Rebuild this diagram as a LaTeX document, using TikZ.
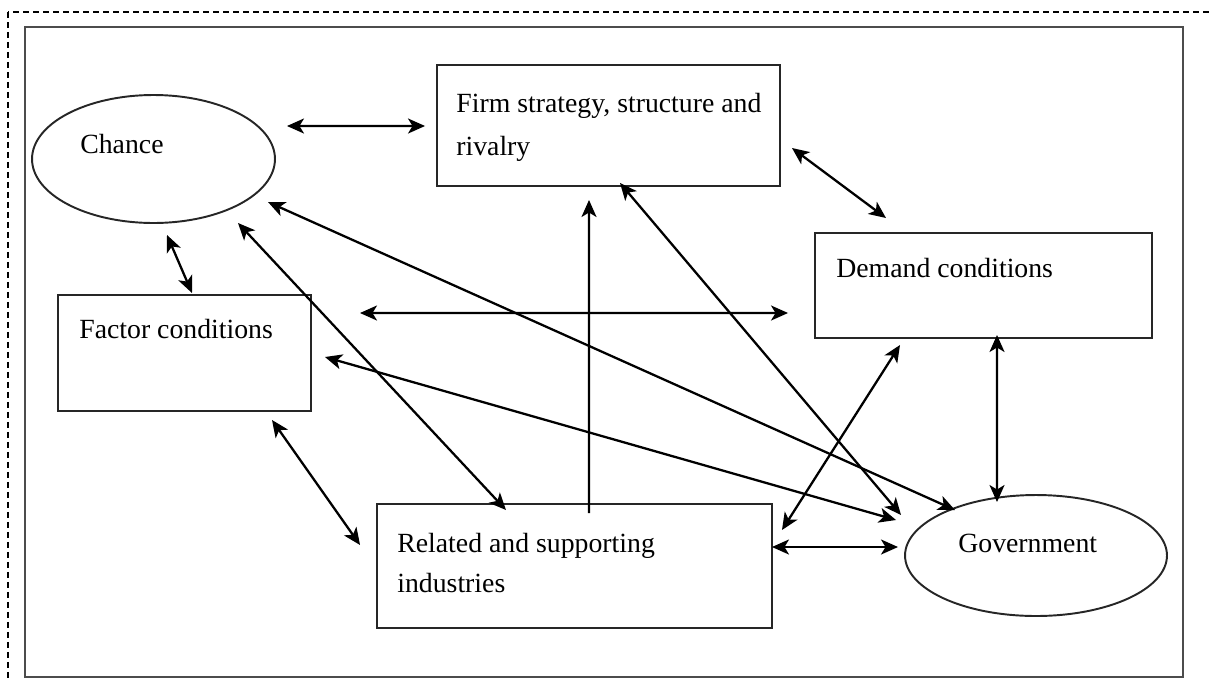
\documentclass[tikz,border=0pt]{standalone}
\usepackage{fontspec}
\setmainfont{Liberation Serif}
\usetikzlibrary{arrows.meta,shapes.geometric,calc}
\begin{document}
\begin{tikzpicture}[x=0.02cm,y=-0.02cm,
  boxshape/.style={draw=black!85,line width=1.1pt,rectangle,inner sep=0pt,outer sep=0pt},
  ellshape/.style={draw=black!85,line width=1.1pt,ellipse,inner sep=0pt,outer sep=0pt},
  lbl/.style={anchor=base west,inner sep=0pt,font=\fontsize{15.8}{24}\selectfont},
  tip/.tip={Stealth[length=0.34cm,width=0.3cm,inset=0.09cm]},
  link/.style={line width=1.3pt,tip-tip},
  onelink/.style={line width=1.3pt,-tip}]
\useasboundingbox (0,0) rectangle (1212,680);
\begin{scope}
\clip (0,0) rectangle (1212,680);
\draw[line width=1.2pt,dash pattern=on 0.12cm off 0.08cm] (8,12) rectangle (1240,700);
\end{scope}
\draw[line width=1pt,draw=black!70] (25,27) rectangle (1183,677);
% shapes
\node[ellshape,minimum width=4.86cm,minimum height=2.56cm] (chance) at (153.5,159) {};
\node[boxshape,minimum width=6.86cm,minimum height=2.42cm] (firm) at (608.5,125.5) {};
\node[boxshape,minimum width=5.06cm,minimum height=2.32cm] (factor) at (184.5,353) {};
\node[boxshape,minimum width=6.74cm,minimum height=2.1cm] (demand) at (983.5,285.5) {};
\node[boxshape,minimum width=7.9cm,minimum height=2.48cm] (related) at (574.5,566) {};
\node[ellshape,minimum width=5.24cm,minimum height=2.42cm] (gov) at (1036,555.5) {};
% labels
\node[lbl] (chancetxt) at (80,153) {Chance};
\node[lbl] (firmtxt1) at (456,112) {Firm strategy, structure and};
\node[lbl] (firmtxt2) at (456,155) {rivalry};
\node[lbl] (factortxt) at (79,338) {Factor conditions};
\node[lbl] (demandtxt) at (836,277) {Demand conditions};
\node[lbl] (relatedtxt1) at (397,552) {Related and supporting};
\node[lbl] (relatedtxt2) at (397,592) {industries};
\node[lbl] (govtxt) at (958,552) {Government};
% connectors
\draw[link] ($(chance.east)+(12,-33)$) -- ($(firm.west)+(-12,0.5)$);
\draw[link] ($(chance.south)+(13.5,12)$) -- ($(factor.north)+(7.5,-2)$);
\draw[link] ($(firm.east)+(12,22.5)$) -- ($(demand.north)+(-97.5,-15)$);
\draw[link] ($(factor.east)+(49,-40)$) -- ($(demand.west)+(-27,27.5)$);
\draw[onelink] ($(related.north)+(14.5,9)$) -- ($(firm.south)+(-19.5,14)$);
\draw[link] ($(firm.south)+(11.5,-3)$) -- ($(gov.west)+(-4,-40.5)$);
\draw[link] ($(chance.east)+(-7,43)$) -- ($(gov.north)+(-81,15)$);
\draw[link] ($(factor.east)+(14,4)$) -- ($(gov.west)+(-9,-35.5)$);
\draw[link] ($(chance.south)+(84.5,0)$) -- ($(related.north)+(-68.5,6)$);
\draw[link] ($(factor.south)+(87.5,9)$) -- ($(related.west)+(-17,-21)$);
\draw[link] ($(related.east)+(10,-36)$) -- ($(demand.south)+(-83.5,7)$);
\draw[link] ($(related.east)+(0,-19)$) -- ($(gov.west)+(-7,-8.5)$);
\draw[link] ($(demand.south)+(13.5,-3)$) -- ($(gov.north)+(-39,7)$);
\end{tikzpicture}
\end{document}
